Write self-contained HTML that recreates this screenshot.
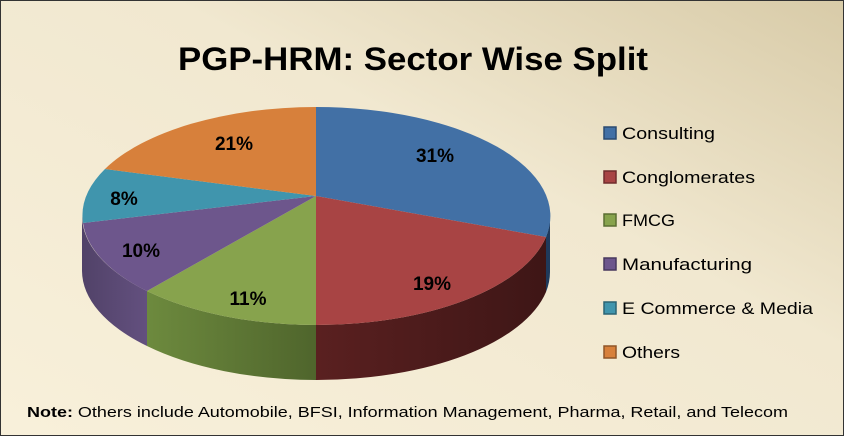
<!DOCTYPE html>
<html><head><meta charset="utf-8"><style>
html,body{margin:0;padding:0;width:844px;height:436px;overflow:hidden;background:#fff}
</style></head><body>
<svg width="844" height="436" viewBox="0 0 844 436" xmlns="http://www.w3.org/2000/svg" font-family="Liberation Sans, sans-serif">
<defs>
<linearGradient id="bg" x1="0" y1="1" x2="1" y2="0">
<stop offset="0" stop-color="#f8f0da"/><stop offset="0.6" stop-color="#f1e8d0"/><stop offset="1" stop-color="#d8cba8"/>
</linearGradient>
<linearGradient id="red" x1="0" x2="1"><stop offset="0" stop-color="#5a2020"/><stop offset="1" stop-color="#3e1616"/></linearGradient>
<linearGradient id="grn" x1="0" x2="1"><stop offset="0" stop-color="#6d8a3e"/><stop offset="1" stop-color="#4f652c"/></linearGradient>
<linearGradient id="pur" x1="0" x2="1"><stop offset="0" stop-color="#514268"/><stop offset="1" stop-color="#63507f"/></linearGradient>
</defs>
<rect x="0.5" y="0.5" width="843" height="435" fill="url(#bg)" stroke="#333" stroke-width="1"/>
<text x="413" y="70" font-size="32" font-weight="bold" text-anchor="middle" textLength="470" lengthAdjust="spacingAndGlyphs" fill="#000">PGP-HRM: Sector Wise Split</text>
<!-- sides -->
<path d="M550 216 A234 109 0 0 1 546 237 L546 292 A234 109 0 0 0 550 271 Z" fill="#1f3a5c"/>
<path d="M546 237 A234 109 0 0 1 316 325 L316 380 A234 109 0 0 0 546 292 Z" fill="url(#red)"/>
<path d="M316 325 A234 109 0 0 1 147 291 L147 346 A234 109 0 0 0 316 380 Z" fill="url(#grn)"/>
<path d="M147 291 A234 109 0 0 1 82 216 L82 271 A234 109 0 0 0 147 346 Z" fill="url(#pur)"/>
<!-- top -->
<path d="M316 196 L316 107 A234 109 0 0 1 546 237 Z" fill="#4270a5"/>
<path d="M316 196 L546 237 A234 109 0 0 1 316 325 Z" fill="#a84444"/>
<path d="M316 196 L316 325 A234 109 0 0 1 147 291 Z" fill="#87a34d"/>
<path d="M316 196 L147 291 A234 109 0 0 1 83 223 Z" fill="#6d568c"/>
<path d="M316 196 L83 223 A234 109 0 0 1 105 169 Z" fill="#4095ad"/>
<path d="M316 196 L105 169 A234 109 0 0 1 316 107 Z" fill="#d7803b"/>
<g font-size="19" font-weight="bold" text-anchor="middle" fill="#000">
<text x="435" y="162">31%</text>
<text x="432" y="290">19%</text>
<text x="248" y="305">11%</text>
<text x="141" y="257">10%</text>
<text x="124" y="205">8%</text>
<text x="234" y="150">21%</text>
</g>
<g stroke-width="1.5">
<rect x="604" y="127" width="12" height="12" fill="#4270a5" stroke="#2b4a70"/>
<rect x="604" y="171" width="12" height="12" fill="#a84444" stroke="#702c2c"/>
<rect x="604" y="214" width="12" height="12" fill="#87a34d" stroke="#5a6e32"/>
<rect x="604" y="258" width="12" height="12" fill="#6d568c" stroke="#48395e"/>
<rect x="604" y="302" width="12" height="12" fill="#4095ad" stroke="#2a6474"/>
<rect x="604" y="346" width="12" height="12" fill="#d7803b" stroke="#8f5527"/>
</g>
<g font-size="17" fill="#000" lengthAdjust="spacingAndGlyphs">
<text x="622" y="139" textLength="93" lengthAdjust="spacingAndGlyphs">Consulting</text>
<text x="622" y="183" textLength="133" lengthAdjust="spacingAndGlyphs">Conglomerates</text>
<text x="622" y="226" textLength="53" lengthAdjust="spacingAndGlyphs">FMCG</text>
<text x="622" y="270" textLength="130" lengthAdjust="spacingAndGlyphs">Manufacturing</text>
<text x="622" y="314" textLength="191" lengthAdjust="spacingAndGlyphs">E Commerce &amp; Media</text>
<text x="622" y="358" textLength="58" lengthAdjust="spacingAndGlyphs">Others</text>
</g>
<text x="27" y="417" font-size="15" fill="#000" textLength="761" lengthAdjust="spacingAndGlyphs"><tspan font-weight="bold">Note:</tspan> Others include Automobile, BFSI, Information Management, Pharma, Retail, and Telecom</text>
</svg>
</body></html>
